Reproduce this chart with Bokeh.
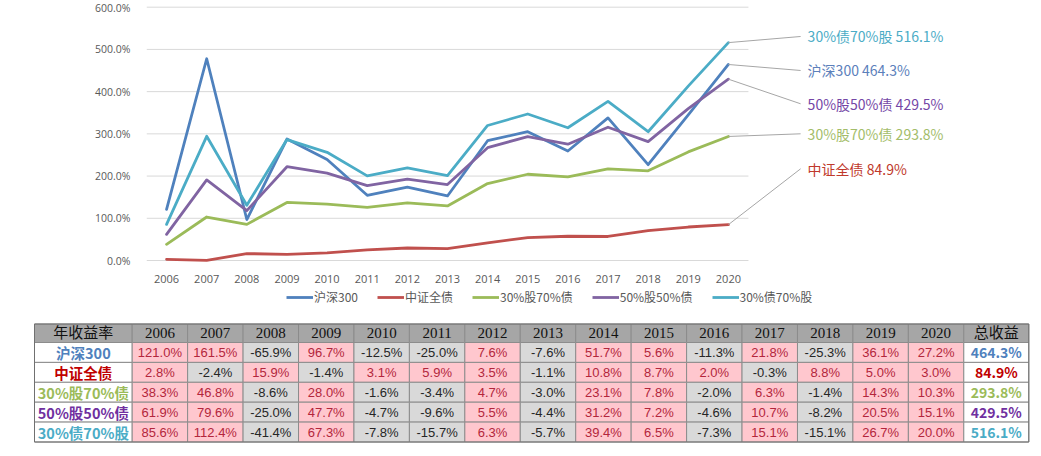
from bokeh.plotting import figure
from bokeh.layouts import column
from bokeh.models import Range1d, FixedTicker, PrintfTickFormatter, Legend, LegendItem, ColumnDataSource
from bokeh.core.properties import value
from bokeh.embed import file_html
from bokeh.resources import INLINE

# ---------------- data ----------------
years = [2006, 2007, 2008, 2009, 2010, 2011, 2012, 2013, 2014, 2015, 2016, 2017, 2018, 2019, 2020]
series_names = ["沪深300", "中证全债", "30%股70%债", "50%股50%债", "30%债70%股"]

# cumulative return (%) shown by the lines
hs300_cum = [121.0, 477.9, 97.1, 287.6, 239.2, 154.4, 173.7, 152.9, 283.7, 305.2, 259.4, 337.7, 227.0, 345.0, 464.3]
bond_cum = [2.8, 0.3, 16.3, 14.7, 18.2, 25.2, 29.6, 28.1, 42.0, 54.3, 57.4, 56.9, 70.8, 79.3, 84.9]
s30_cum = [38.3, 103.0, 85.6, 137.5, 133.7, 125.8, 136.4, 129.3, 182.3, 204.3, 198.2, 217.0, 212.5, 257.2, 293.8]
s50_cum = [61.9, 190.8, 118.1, 222.1, 207.0, 177.5, 192.8, 179.9, 267.2, 293.6, 275.5, 315.7, 281.6, 359.9, 429.5]
s70_cum = [85.6, 294.2, 131.0, 286.5, 256.3, 200.4, 219.3, 201.1, 319.8, 347.0, 314.4, 377.0, 305.0, 413.1, 516.1]

# annual returns (%) shown in the table
hs300_ret = [121.0, 161.5, -65.9, 96.7, -12.5, -25.0, 7.6, -7.6, 51.7, 5.6, -11.3, 21.8, -25.3, 36.1, 27.2]
bond_ret = [2.8, -2.4, 15.9, -1.4, 3.1, 5.9, 3.5, -1.1, 10.8, 8.7, 2.0, -0.3, 8.8, 5.0, 3.0]
s30_ret = [38.3, 46.8, -8.6, 28.0, -1.6, -3.4, 4.7, -3.0, 23.1, 7.8, -2.0, 6.3, -1.4, 14.3, 10.3]
s50_ret = [61.9, 79.6, -25.0, 47.7, -4.7, -9.6, 5.5, -4.4, 31.2, 7.2, -4.6, 10.7, -8.2, 20.5, 15.1]
s70_ret = [85.6, 112.4, -41.4, 67.3, -7.8, -15.7, 6.3, -5.7, 39.4, 6.5, -7.3, 15.1, -15.1, 26.7, 20.0]
totals = [464.3, 84.9, 293.8, 429.5, 516.1]

y_ticks = [0, 100, 200, 300, 400, 500, 600]
table_title = "年收益率"
total_title = "总收益"

# ---------------- styles ----------------
line_colors = ["#4f81bd", "#c0504d", "#9bbb59", "#8064a2", "#4bacc6"]
label_colors = ["#5b80bb", "#c0392b", "#a3bd6a", "#7446a6", "#4bacc6"]
table_colors = ["#4f81bd", "#c00000", "#9bbb59", "#7030a0", "#4bacc6"]
# label anchor y (data units) for the right-side call-outs, per series
callout_y = [450.1, 217.2, 300.1, 371.2, 530.6]

cums = [hs300_cum, bond_cum, s30_cum, s50_cum, s70_cum]
rets = [hs300_ret, bond_ret, s30_ret, s50_ret, s70_ret]

W = 1041
TOP_H = 285
TAB_H = 456 - TOP_H
FRAME_LEFT = 146
PX_PER_YEAR = 40.13
PX_PER_PCT = 0.42217
ZERO_PX = 260
FRAME_BOTTOM = 262

x_end = 2005.5 + (W - FRAME_LEFT) / PX_PER_YEAR
y_start = -(FRAME_BOTTOM - ZERO_PX) / PX_PER_PCT
y_end = ZERO_PX / PX_PER_PCT

p = figure(width=W, height=TOP_H, x_range=Range1d(2005.5, x_end), y_range=Range1d(y_start, y_end),
           output_backend="svg", toolbar_location=None,
           min_border_left=FRAME_LEFT, min_border_right=0, min_border_top=0,
           min_border_bottom=TOP_H - FRAME_BOTTOM)
p.frame_align = False
p.outline_line_color = None
p.xgrid.visible = False
p.ygrid.visible = False

# gridlines only across the category area
p.segment(x0=[2005.5] * len(y_ticks), x1=[2020.5] * len(y_ticks), y0=y_ticks, y1=y_ticks,
          line_color="#d9d9d9", line_width=1)

p.xaxis.ticker = FixedTicker(ticks=years)
p.yaxis.ticker = FixedTicker(ticks=y_ticks)
p.yaxis.formatter = PrintfTickFormatter(format="%.1f%%")
for ax in (p.xaxis, p.yaxis):
    ax.axis_line_color = None
    ax.major_tick_line_color = None
    ax.minor_tick_line_color = None
    ax.major_label_text_color = "#595959"
    ax.major_label_text_font = "Open Sans"
p.xaxis.major_label_text_font_size = "11px"
p.yaxis.major_label_text_font_size = "10.5px"
p.xaxis.major_label_standoff = 6
p.yaxis.major_label_standoff = 10

for name, vals, col in zip(series_names, cums, line_colors):
    p.line(years, vals, line_color=col, line_width=2.8, line_join="round", line_cap="round")

# call-outs
last_x = years[-1]
for name, vals, col, ly, lc in zip(series_names, cums, line_colors, callout_y, label_colors):
    p.segment(x0=[last_x], y0=[vals[-1]], x1=[last_x + 1.8], y1=[ly], line_color="#a6a6a6", line_width=1)
    p.text(x=[last_x + 1.8], y=[ly], text=[f"{name} {vals[-1]:.1f}%"], text_color=lc,
           text_font=value("Noto Sans CJK SC"), text_font_size="14px", text_baseline="middle",
           text_align="left", x_offset=7)

# ---------------- legend + table ----------------
t = figure(width=W, height=TAB_H, x_range=Range1d(0, W), y_range=Range1d(TAB_H, 0),
           output_backend="svg", toolbar_location=None, min_border=0,
           x_axis_location=None, y_axis_location=None)
t.frame_align = False
t.outline_line_color = None
t.grid.visible = False

# legend keys (same series styles as the chart above); their points lie off-view
legend_renderers = [t.line(x=[-50, -40], y=[-50, -40], line_color=c, line_width=2.8) for c in line_colors]
LEG_LEFT = 286
LEG_BOTTOM = 305 - TOP_H
legend = Legend(items=[LegendItem(label=n, renderers=[r]) for n, r in zip(series_names, legend_renderers)],
                orientation="horizontal", location=(LEG_LEFT, TAB_H - LEG_BOTTOM))
legend.label_text_font = "Noto Sans CJK SC"
legend.label_text_font_size = "12px"
legend.label_text_color = "#595959"
legend.glyph_width = 27
legend.glyph_height = 14
legend.label_height = 14
legend.label_standoff = 1
legend.spacing = 19
legend.padding = 0
legend.margin = 0
legend.border_line_color = None
legend.background_fill_alpha = 0
t.add_layout(legend)

TAB_LEFT = 34
FIRST_W = 97.7
YEAR_W = 55.44
LAST_W = 65
TAB_TOP = 323.5 - TOP_H
HEAD_H = 18.5
ROW_H = 19.9

col_lefts = [TAB_LEFT, TAB_LEFT + FIRST_W] + [TAB_LEFT + FIRST_W + YEAR_W * (i + 1) for i in range(len(years))]
col_widths = [FIRST_W] + [YEAR_W] * len(years) + [LAST_W]
col_centers = [l + w / 2 for l, w in zip(col_lefts, col_widths)]
row_centers = [TAB_TOP + HEAD_H / 2] + [TAB_TOP + HEAD_H + ROW_H * (i + 0.5) for i in range(len(series_names))]
row_heights = [HEAD_H] + [ROW_H] * len(series_names)

cells = dict(x=[], y=[], w=[], h=[], fill=[])
hdr = dict(x=[], y=[], text=[])
body = dict(x=[], y=[], text=[], color=[])
names = dict(x=[], y=[], text=[], color=[])

header_labels = [table_title] + [str(yv) for yv in years] + [total_title]
for j, lab in enumerate(header_labels):
    cells["x"].append(col_centers[j]); cells["y"].append(row_centers[0])
    cells["w"].append(col_widths[j]); cells["h"].append(row_heights[0]); cells["fill"].append("#a6a6a6")
    hdr["x"].append(col_centers[j]); hdr["y"].append(row_centers[0]); hdr["text"].append(lab)

for i, (name, rr, tc) in enumerate(zip(series_names, rets, table_colors)):
    yc = row_centers[i + 1]
    cells["x"].append(col_centers[0]); cells["y"].append(yc)
    cells["w"].append(col_widths[0]); cells["h"].append(ROW_H); cells["fill"].append("#ffffff")
    names["x"].append(col_centers[0]); names["y"].append(yc); names["text"].append(name); names["color"].append(tc)
    for j, v in enumerate(rr):
        cells["x"].append(col_centers[j + 1]); cells["y"].append(yc)
        cells["w"].append(YEAR_W); cells["h"].append(ROW_H)
        cells["fill"].append("#ffc7ce" if v >= 0 else "#d9d9d9")
        body["x"].append(col_centers[j + 1]); body["y"].append(yc)
        body["text"].append(f"{v:.1f}%"); body["color"].append("#b3263c" if v >= 0 else "#262626")
    cells["x"].append(col_centers[-1]); cells["y"].append(yc)
    cells["w"].append(LAST_W); cells["h"].append(ROW_H); cells["fill"].append("#ffffff")

t.rect(x="x", y="y", width="w", height="h", fill_color="fill", line_color="#8c8c8c", line_width=1,
       source=ColumnDataSource(cells))
tab_w = col_lefts[-1] + LAST_W - TAB_LEFT
tab_h = HEAD_H + ROW_H * len(series_names)
t.rect(x=[TAB_LEFT + tab_w / 2], y=[TAB_TOP + tab_h / 2], width=[tab_w], height=[tab_h],
       fill_alpha=0, line_color="#707070", line_width=1)

t.text(x="x", y="y", text="text", source=ColumnDataSource(hdr), text_color="#111111",
       text_font=value("'Liberation Serif', 'Noto Sans CJK SC'"), text_font_size="15px",
       text_align="center", text_baseline="middle")
t.text(x="x", y="y", text="text", text_color="color", source=ColumnDataSource(body),
       text_font=value("Liberation Sans"), text_font_size="13px",
       text_align="center", text_baseline="middle")
t.text(x="x", y="y", text="text", text_color="color", source=ColumnDataSource(names),
       text_font=value("Noto Sans CJK SC"), text_font_size="14.5px", text_font_style="bold",
       text_align="center", text_baseline="middle")
t.text(x=[col_centers[-1]] * len(totals), y=row_centers[1:], text=[f"{v:.1f}%" for v in totals],
       text_color=table_colors, text_font=value("Noto Sans CJK SC"), text_font_size="14px",
       text_font_style="bold", text_align="center", text_baseline="middle")

layout = column(p, t, spacing=0)
open("out.html", "w").write(file_html(layout, INLINE))
